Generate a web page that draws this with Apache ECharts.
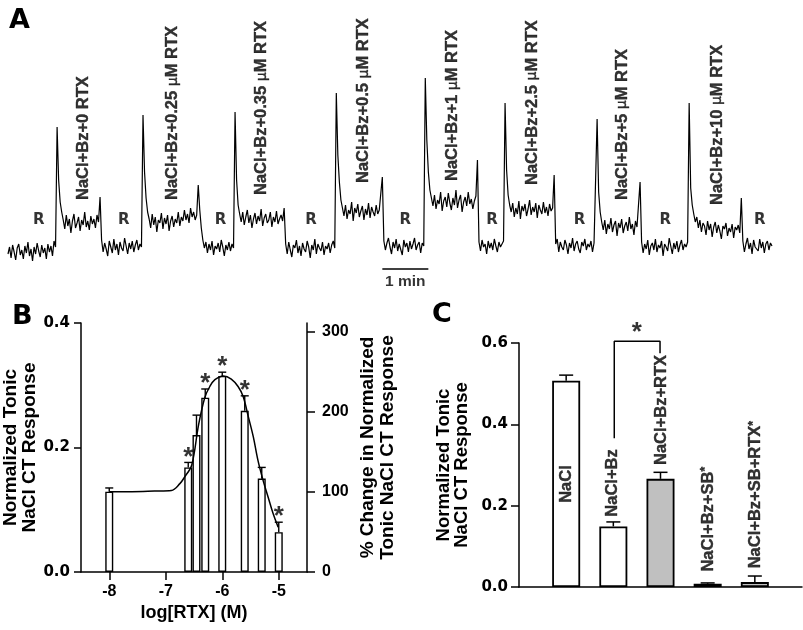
<!DOCTYPE html>
<html><head><meta charset="utf-8">
<script src="https://cdn.jsdelivr.net/npm/echarts@6/dist/echarts.min.js"></script>
<style>html,body{margin:0;padding:0;background:#fff}#c{width:803px;height:630px}</style>
</head><body><div id="c"></div><script>
// ---------- Panel A: chorda tympani trace (one sample every 2 s) ----------
const traceStepSec = 2;
const traceValues = [
  // R
  -4, 3, -8, 5, -2, -10, 2, 6, -5, 0, -9, 4, -3, 8, -6, 1, -11, 3, -4, 7, -1, -7, 5, -3, 2, -9, 6, -2, 4, -6, 9, 3,
  123,
  // NaCl+Bz+0 RTX
  70, 48, 38, 30, 21, 35, 24, 31, 17, 29, 36, 22, 27, 33, 19, 30, 25, 38, 23, 29, 20, 34, 26, 31, 22, 35, 28,
  53,
  // R
  10, -2, 7, 1, -6, 9, 3, -3, 11, 0, 6, -5, 8, 2, -1, 12, 4, -4, 7, 1, 9, -2, 5, 10, 0, 6, 3,
  135,
  // 0.25 uM
  78, 52, 38, 31, 22, 36, 25, 33, 18, 30, 27, 37, 21, 32, 26, 35, 19, 29, 34, 23, 31, 27, 38, 24, 33, 29, 40, 30, 36, 27, 42, 33, 38, 30, 35,
  65,
  // R
  40, 22, 10, 2, 8, -3, 6, 0, 9, -5, 4, 1, 7, -2, 10, 3, -6, 5, 0, 8, -1, 6, 2,
  138,
  // 0.35 uM
  70, 45, 36, 28, 38, 25, 33, 40, 27, 35, 22, 31, 37, 26, 34, 29, 41, 24, 32, 36, 27, 30, 38, 23, 33, 28, 39, 26, 31, 35, 29,
  42,
  // R
  6, -4, 8, 0, -7, 5, 2, 10, -3, 4, -6, 7, 1, -2, 9, 3, -8, 5, 0, 11, -4, 6, 2, -1, 8, -5, 4, 1, 7, -3, 5, 9, 2,
  157,
  // 0.5 uM
  95, 68, 50, 42, 34, 45, 31, 40, 36, 48, 29, 42, 37, 46, 33, 39, 44, 30, 41, 35, 47, 32, 43, 38, 34, 45, 36, 40, 42,
  73,
  // R
  9, 0, 7, 12, 3, -4, 8, 2, 11, -1, 6, 4, -5, 10, 3, 7, -2, 9, 1, 6, 12, 0, 5, 8, -3, 7, 4,
  172,
  // 1 uM
  110, 78, 60, 52, 44, 55, 41, 50, 46, 58, 39, 49, 53, 43, 57, 47, 40, 52, 45, 60, 42, 50, 55, 38, 48, 53, 44, 58, 46, 51, 41, 49, 54,
  90,
  // R
  8, -1, 10, 3, 6, -4, 9, 2, 7, 0, 11, 4, -2, 8, 3, 6, 9,
  147,
  // 2.5 uM
  80, 55, 45, 38, 47, 33, 42, 36, 49, 31, 44, 39, 46, 34, 41, 50, 35, 43, 38, 47, 32, 45, 40, 36, 48, 37, 43, 34, 46, 39, 42,
  75,
  // R
  6, 11, -2, 8, 3, 0, 10, 5, -4, 7, 2, 12, -1, 6, 9, 1, -3, 8, 4, 11, 0, 6, 3, 9, -2, 7, 5,
  131,
  // 5 uM
  58, 38, 28, 20, 30, 16, 26, 21, 32, 18, 25, 29, 14, 27, 22, 31, 17, 24, 28, 19, 33, 21, 26, 15, 29, 23, 25,
  68,
  // R
  8, -3, 6, 1, 10, -5, 4, 7, 0, 11, -2, 5, 2, 9, -6, 6, 3, -1, 12, 4, -4, 7, 1, 9, -2, 5, 10, 0, 6, 3, 8,
  147,
  // 10 uM
  62, 45, 36, 28, 33, 22, 30, 18, 27, 24, 15, 29, 20, 26, 13, 23, 28, 17, 25, 19, 11, 24, 21, 27, 14, 22, 18, 26, 12, 23, 20, 25, 17,
  52,
  // R
  9, -2, 6, 12, 1, 7, -4, 10, 3, 5, -1, 11, 2, 8, -3, 6, 9, 0, 7, 4
];
const rinseLabel = 'R';
const rinseLabelTimes = [40, 151, 277, 395, 518, 631, 745, 857, 980];
const rinseLabelLevel = 30;
const stimLabelNames = ['NaCl+Bz+0 RTX', 'NaCl+Bz+0.25 μM RTX', 'NaCl+Bz+0.35 μM RTX', 'NaCl+Bz+0.5 μM RTX',
  'NaCl+Bz+1 μM RTX', 'NaCl+Bz+2.5 μM RTX', 'NaCl+Bz+5 μM RTX', 'NaCl+Bz+10 μM RTX'];
const stimLabelTimes = [98, 215, 331, 464, 580, 684, 801, 925];
const stimLabelLevels = [50, 50, 55, 67, 69, 65, 50, 45];
const scaleBarStart = 488, scaleBarSec = 60, scaleBarLevel = -19;
const scaleBarText = '1 min';

// ---------- Panel B: dose response ----------
const logRTX = [-8, -6.602, -6.456, -6.301, -6, -5.602, -5.301, -5];
const tonicResp = [0.129, 0.168, 0.220, 0.280, 0.315, 0.259, 0.150, 0.064];
const tonicSEM = [0.006, 0.008, 0.032, 0.014, 0.006, 0.024, 0.018, 0.016];
const tonicSignif = [false, true, false, true, true, true, false, true];
const fitLogX = [-8, -7.6, -7.2, -6.9, -6.75, -6.67, -6.54, -6.42, -6.31, -6.22, -6.13, -5.98, -5.84, -5.72, -5.63, -5.54, -5.45, -5.37, -5.28, -5.19, -5.10, -5.01];
const fitResp = [0.129, 0.129, 0.130, 0.131, 0.142, 0.152, 0.172, 0.236, 0.280, 0.298, 0.309, 0.315, 0.310, 0.298, 0.282, 0.250, 0.217, 0.180, 0.148, 0.121, 0.094, 0.072];
const bXTicks = [-8, -7, -6, -5];
const bRightTicks = [0, 100, 200, 300];
const bRightMax = 311;

// ---------- Panel C: group means ----------
const groupNames = ['NaCl', 'NaCl+Bz', 'NaCl+Bz+RTX', 'NaCl+Bz+SB*', 'NaCl+Bz+SB+RTX*'];
const groupPos = [1, 2, 3, 4, 5];
const groupMeans = [0.507, 0.149, 0.266, 0.008, 0.012];
const groupSEM = [0.014, 0.011, 0.016, 0.002, 0.015];
const groupHasRTX = [false, false, true, false, true];
const groupLabelBase = [0.207, 0.173, 0.300, 0.038, 0.046];
const groupLabelPos = [1, 1.99, 3.03, 4.01, 5.02];
const bracketPts = [[2.02, 0.366], [2.02, 0.604], [2.99, 0.604], [2.99, 0.575]];
const bracketStar = [2.5, 0.625];

const FONT = "'Liberation Sans', Arial, Helvetica, sans-serif";
const WIDE = "'DejaVu Sans', Verdana, sans-serif";
const chart = echarts.init(document.getElementById('c'), null, {renderer: 'canvas'});

function errorBars(xi, yi, xs, means, sems, capW, lw) {
  return {
    type: 'custom', xAxisIndex: xi, yAxisIndex: yi, z: 4,
    data: xs.map((x, i) => [x, means[i], means[i] + sems[i]]),
    encode: {x: 0, y: [1, 2]},
    renderItem: (params, api) => {
      const b = api.coord([api.value(0), api.value(1)]);
      const t = api.coord([api.value(0), api.value(2)]);
      return {type: 'group', children: [
        {type: 'line', shape: {x1: b[0], y1: b[1], x2: t[0], y2: t[1]}, style: {stroke: '#000', lineWidth: lw}},
        {type: 'line', shape: {x1: t[0] - capW / 2, y1: t[1], x2: t[0] + capW / 2, y2: t[1]}, style: {stroke: '#000', lineWidth: lw}}
      ]};
    }
  };
}
const boldTxt = (size, fam) => ({color: '#000', fontFamily: fam || FONT, fontWeight: 'bold', fontSize: size});
const heavy = {textBorderColor: '#000', textBorderWidth: 0.4};
const muRich = (s) => s.replace('μ', '{mu|μ}');
const supRich = (s) => s.replace(/\*$/, '{sup|*}');
const axisLineStyle = {color: '#000', width: 1.5};

const option = {
  animation: false,
  textStyle: {fontFamily: FONT},
  grid: [
    {left: 8, top: 10, width: 764, height: 280},
    {left: 81, top: 323, width: 226, height: 249},
    {left: 519, top: 343, width: 283, height: 244}
  ],
  xAxis: [
    {gridIndex: 0, type: 'value', min: 0, max: 996, show: false},
    {gridIndex: 1, type: 'value', min: -8.5, max: -4.5,
      axisLine: {onZero: false, lineStyle: axisLineStyle},
      axisTick: {length: 8, lineStyle: axisLineStyle, customValues: bXTicks},
      axisLabel: Object.assign({margin: 12, customValues: bXTicks}, boldTxt(16)),
      splitLine: {show: false},
      name: 'log[RTX] (M)', nameLocation: 'middle', nameGap: 32, nameTextStyle: boldTxt(18)},
    {gridIndex: 2, type: 'value', min: 0, max: 6,
      axisLine: {onZero: false, lineStyle: axisLineStyle},
      axisTick: {show: false}, axisLabel: {show: false}, splitLine: {show: false}}
  ],
  yAxis: [
    {gridIndex: 0, type: 'value', min: -40, max: 240, show: false},
    {gridIndex: 1, type: 'value', min: 0, max: 0.4, interval: 0.2,
      axisLine: {show: true, onZero: false, lineStyle: axisLineStyle},
      axisTick: {show: true, length: 7, lineStyle: axisLineStyle},
      axisLabel: Object.assign({margin: 11, formatter: v => v.toFixed(1)}, boldTxt(15, WIDE)),
      splitLine: {show: false},
      name: 'Normalized Tonic\nNaCl CT Response', nameLocation: 'middle', nameRotate: 90, nameGap: 36,
      nameTextStyle: Object.assign({lineHeight: 19}, boldTxt(19))},
    {gridIndex: 1, type: 'value', position: 'right', min: 0, max: bRightMax,
      axisLine: {show: true, onZero: false, lineStyle: axisLineStyle},
      axisTick: {show: true, length: 8, lineStyle: axisLineStyle, customValues: bRightTicks},
      axisLabel: Object.assign({margin: 15, customValues: bRightTicks, formatter: v => (v % 100 === 0 ? String(v) : '')}, boldTxt(16)),
      splitLine: {show: false},
      name: '% Change in Normalized\nTonic NaCl CT Response', nameLocation: 'middle', nameRotate: 90, nameGap: 51,
      nameTextStyle: Object.assign({lineHeight: 20}, boldTxt(19))},
    {gridIndex: 2, type: 'value', min: 0, max: 0.6, interval: 0.2,
      axisLine: {show: true, onZero: false, lineStyle: axisLineStyle},
      axisTick: {show: true, length: 8, lineStyle: axisLineStyle},
      axisLabel: Object.assign({margin: 11, formatter: v => v.toFixed(1)}, boldTxt(15, WIDE)),
      splitLine: {show: false},
      name: 'Normalized Tonic\nNaCl CT Response', nameLocation: 'middle', nameRotate: 90, nameGap: 48,
      nameTextStyle: Object.assign({lineHeight: 18}, boldTxt(18.5))}
  ],
  graphic: [
    {type: 'text', left: 9, top: 7, style: {text: 'A', font: 'bold 27px ' + WIDE, fill: '#000'}},
    {type: 'text', left: 12, top: 303, style: {text: 'B', font: 'bold 27px ' + WIDE, fill: '#000'}},
    {type: 'text', left: 432, top: 301, style: {text: 'C', font: 'bold 27px ' + WIDE, fill: '#000'}}
  ],
  series: [
    // Panel A trace
    {type: 'line', xAxisIndex: 0, yAxisIndex: 0, showSymbol: false, symbol: 'none',
      data: traceValues.map((v, i) => [i * traceStepSec, v]),
      lineStyle: {color: '#000', width: 1.2}, z: 2},
    {type: 'line', xAxisIndex: 0, yAxisIndex: 0, showSymbol: false, symbol: 'none',
      data: [[scaleBarStart, scaleBarLevel], [scaleBarStart + scaleBarSec, scaleBarLevel]],
      lineStyle: {color: '#000', width: 1.5}},
    {type: 'scatter', xAxisIndex: 0, yAxisIndex: 0, symbolSize: 1, itemStyle: {color: 'rgba(0,0,0,0)'},
      data: rinseLabelTimes.map(t => ({value: [t, rinseLabelLevel], name: rinseLabel})),
      label: Object.assign({show: true, position: 'inside', formatter: p => p.name}, boldTxt(15, WIDE))},
    {type: 'scatter', xAxisIndex: 0, yAxisIndex: 0, symbolSize: 1, itemStyle: {color: 'rgba(0,0,0,0)'},
      data: [{value: [scaleBarStart + scaleBarSec / 2, -32], name: scaleBarText}],
      label: Object.assign({show: true, position: 'inside', formatter: p => p.name}, boldTxt(15.5))},
    {type: 'scatter', xAxisIndex: 0, yAxisIndex: 0, symbolSize: 1, itemStyle: {color: 'rgba(0,0,0,0)'},
      data: stimLabelTimes.map((t, i) => ({value: [t, stimLabelLevels[i]], name: stimLabelNames[i]})),
      label: Object.assign({show: true, position: 'inside', rotate: 90, align: 'left', verticalAlign: 'middle',
        formatter: p => muRich(p.name),
        rich: {mu: {fontFamily: 'DejaVu Sans', fontWeight: 'normal', fontSize: 14, color: '#000'}}}, boldTxt(16.5), heavy)},
    // Panel B
    {type: 'bar', xAxisIndex: 1, yAxisIndex: 1, barWidth: 8, z: 2,
      data: logRTX.map((x, i) => [x, tonicResp[i]]),
      itemStyle: {color: '#fff', borderColor: '#000', borderWidth: 1.4}},
    errorBars(1, 1, logRTX, tonicResp, tonicSEM, 8, 1.4),
    {type: 'line', xAxisIndex: 1, yAxisIndex: 1, showSymbol: false, symbol: 'none', smooth: 0.35, z: 5,
      data: fitLogX.map((x, i) => [x, fitResp[i]]),
      lineStyle: {color: '#000', width: 1.5}},
    {type: 'scatter', xAxisIndex: 1, yAxisIndex: 1, symbolSize: 1, itemStyle: {color: 'rgba(0,0,0,0)'}, z: 6,
      data: logRTX.map((x, i) => [x, tonicResp[i] + tonicSEM[i]]).filter((d, i) => tonicSignif[i]),
      label: Object.assign({show: true, position: 'inside', offset: [0, -5], formatter: '*'}, boldTxt(26))},
    // Panel C
    {type: 'bar', xAxisIndex: 2, yAxisIndex: 3, barWidth: 28, z: 2,
      data: groupPos.map((x, i) => ({value: [x, groupMeans[i]],
        itemStyle: {color: groupHasRTX[i] ? '#c0c0c0' : '#fff'}})),
      itemStyle: {borderColor: '#000', borderWidth: 1.8}},
    errorBars(2, 3, groupPos, groupMeans, groupSEM, 14, 1.5),
    {type: 'line', xAxisIndex: 2, yAxisIndex: 3, showSymbol: false, symbol: 'none', clip: false,
      data: bracketPts, lineStyle: {color: '#000', width: 1.5}},
    {type: 'scatter', xAxisIndex: 2, yAxisIndex: 3, symbolSize: 1, itemStyle: {color: 'rgba(0,0,0,0)'}, clip: false,
      data: [{value: bracketStar, name: '*'}],
      label: Object.assign({show: true, position: 'inside', formatter: '*'}, boldTxt(26))},
    {type: 'scatter', xAxisIndex: 2, yAxisIndex: 3, symbolSize: 1, itemStyle: {color: 'rgba(0,0,0,0)'}, z: 6,
      data: groupLabelPos.map((x, i) => ({value: [x, groupLabelBase[i]], name: groupNames[i]})),
      label: Object.assign({show: true, position: 'inside', rotate: 90, align: 'left', verticalAlign: 'middle',
        formatter: p => supRich(p.name),
        rich: {sup: {fontSize: 12, fontWeight: 'bold', color: '#000', verticalAlign: 'top', lineHeight: 12}}}, boldTxt(16.5), heavy)}
  ]
};
chart.setOption(option);
</script></body></html>
